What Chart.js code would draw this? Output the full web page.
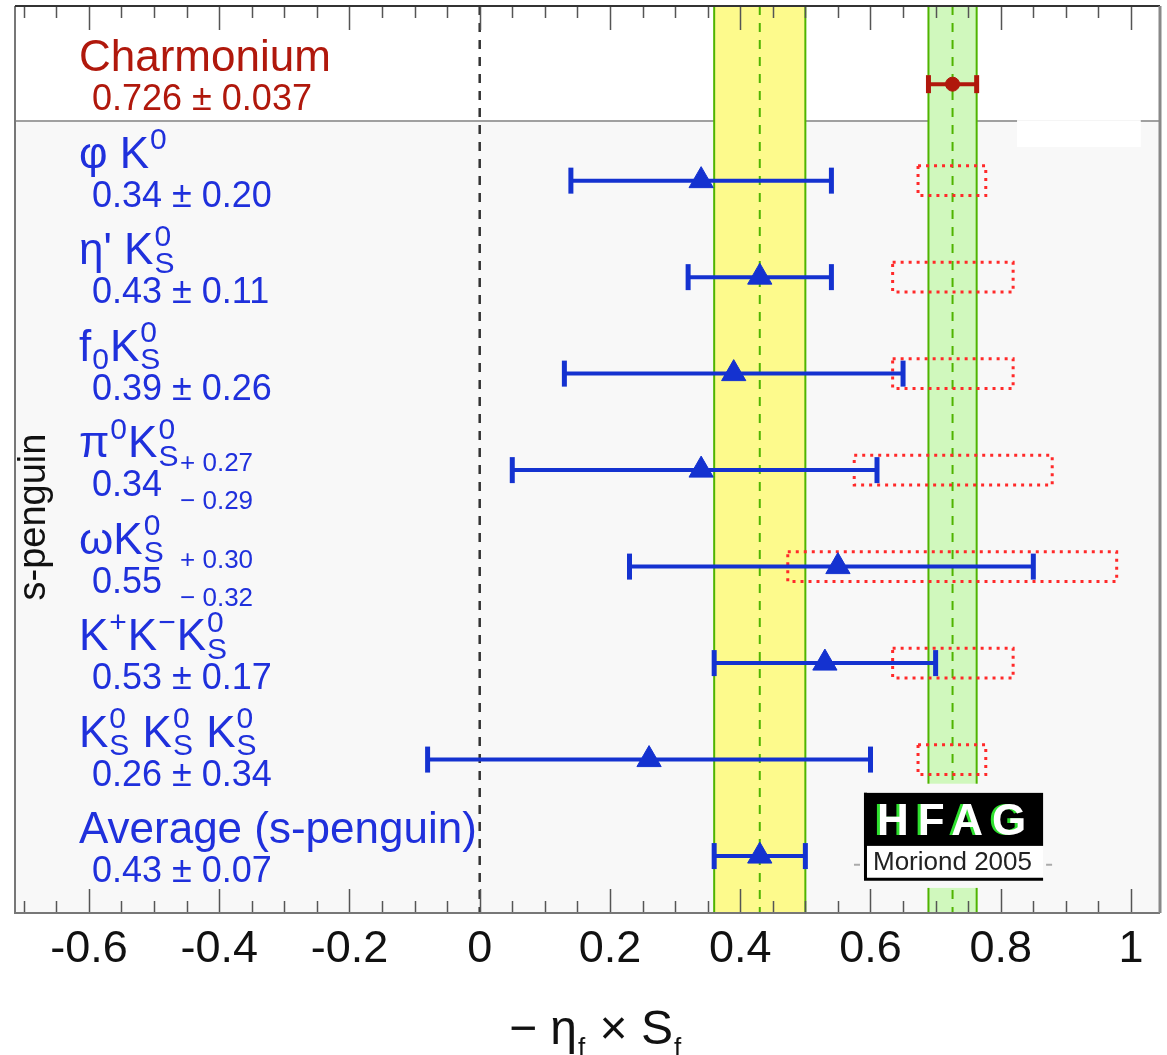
<!DOCTYPE html>
<html>
<head>
<meta charset="utf-8">
<title>s-penguin: -eta_f x S_f</title>
<script src="https://cdn.jsdelivr.net/npm/chart.js@4.4.1/dist/chart.umd.min.js"></script>
<style>
  html, body { margin: 0; padding: 0; background: #fff; }
  #wrap { width: 1167px; height: 1055px; }
</style>
</head>
<body>
<div id="wrap"><canvas id="chart" width="1167" height="1055"></canvas></div>
<script>
'use strict';

/* ── Data ─────────────────────────────────────────────────────── */
const rowNames = [
  'Charmonium',
  'φ K^{0}',
  "η' K^{0}_{S}",
  'f_{0}K^{0}_{S}',
  'π^{0}K^{0}_{S}',
  'ωK^{0}_{S}',
  'K^{+}K^{−}K^{0}_{S}',
  'K^{0}_{S} K^{0}_{S} K^{0}_{S}',
  'Average (s-penguin)'
];
const centralValues = [0.726, 0.34, 0.43, 0.39, 0.34, 0.55, 0.53, 0.26, 0.43];
const errPlus       = [0.037, 0.20, 0.11, 0.26, 0.27, 0.30, 0.17, 0.34, 0.07];
const errMinus      = [0.037, 0.20, 0.11, 0.26, 0.29, 0.32, 0.17, 0.34, 0.07];
const labelDigits   = [3, 2, 2, 2, 2, 2, 2, 2, 2];

// red dotted boxes (no box for charmonium / average)
const naiveLo = [null, 0.673, 0.634, 0.634, 0.575, 0.473, 0.634, 0.673, null];
const naiveHi = [null, 0.777, 0.819, 0.819, 0.879, 0.978, 0.819, 0.777, null];

const xTickValues = [-0.6, -0.4, -0.2, 0, 0.2, 0.4, 0.6, 0.8, 1];
const X_MIN = -0.7135, X_MAX = 1.0445;
const Y_MIN = -0.81,   Y_MAX = 8.59;
const SEPARATOR_AT = 0.383;   // line between charmonium and s-penguin rows
const CHARM_ROW = 0, AVG_ROW = 8;

/* ── Styles ─────────────────────────────────────────────────────── */
const BLUE      = '#1432d0';
const BLUE_TEXT = '#1f30dc';
const DARK_RED  = '#b0180c';
const RED_DOT   = '#ff2a2a';
const YELLOW    = '#fdfa8c';
const LIGHT_GRN = '#d0f8bd';
const GREEN     = '#4fb400';
const FONT      = '"Liberation Sans", Arial, Helvetica, sans-serif';
const BOX_HALF  = 0.155;

const rows = rowNames.map((_, i) => i);

const fmt = (v, d) => v.toFixed(d);

// ── rich text: ^{..} superscript, _{..} subscript, stacked when adjacent
function drawRich(ctx, spec, x, y, size, color, opt = {}) {
  const small  = Math.round(size * (opt.scriptScale || 0.68));
  const supDy  = opt.supDy !== undefined ? opt.supDy : -0.42 * size;
  const subDy  = opt.subDy !== undefined ? opt.subDy : 0.2 * size;
  const parts  = spec.split(/(\^\{[^}]*\}|_\{[^}]*\})/).filter(s => s.length);
  const isScript = p => p && (p.startsWith('^{') || p.startsWith('_{'));
  let cx = x, stackW = 0;
  ctx.fillStyle = color;
  ctx.textAlign = 'left';
  ctx.textBaseline = 'alphabetic';
  parts.forEach((p, k) => {
    if (!isScript(p)) {
      ctx.font = `${size}px ${FONT}`;
      if (opt.draw !== false) ctx.fillText(p, cx, y);
      cx += ctx.measureText(p).width;
      return;
    }
    const txt = p.slice(2, -1);
    ctx.font = `${small}px ${FONT}`;
    const dy = p[0] === '^' ? supDy : subDy;
    if (opt.draw !== false) ctx.fillText(txt, cx + 1, y + dy);
    const w = ctx.measureText(txt).width + 2;
    if (isScript(parts[k + 1])) {
      stackW = Math.max(stackW, w);
    } else {
      cx += Math.max(stackW, w);
      stackW = 0;
    }
  });
  return cx - x;
}

/* ── Datasets ───────────────────────────────────────────────────── */
const errorBarSets = rows.map(i => ({
  label: 'err ' + i,
  showLine: true,
  data: [
    { x: centralValues[i] - errMinus[i], y: i },
    { x: centralValues[i] + errPlus[i],  y: i }
  ],
  borderColor: i === CHARM_ROW ? DARK_RED : BLUE,
  borderWidth: 4,
  pointStyle: 'line',
  pointRotation: 90,
  pointRadius: i === CHARM_ROW ? 9 : 13,
  pointBorderWidth: 5,
  pointBorderColor: i === CHARM_ROW ? DARK_RED : BLUE,
  order: 2
}));

const naiveBoxSets = rows.filter(i => naiveLo[i] !== null).map(i => ({
  label: 'naive ' + i,
  showLine: true,
  data: [
    { x: naiveLo[i], y: i - BOX_HALF },
    { x: naiveHi[i], y: i - BOX_HALF },
    { x: naiveHi[i], y: i + BOX_HALF },
    { x: naiveLo[i], y: i + BOX_HALF },
    { x: naiveLo[i], y: i - BOX_HALF }
  ],
  borderColor: RED_DOT,
  borderWidth: 3,
  borderDash: [3, 5],
  pointRadius: 0,
  fill: false,
  order: 3
}));

const markerSet = {
  label: 'value',
  data: rows.map(i => ({ x: centralValues[i], y: i })),
  pointStyle: rows.map(i => i === CHARM_ROW ? 'circle' : 'triangle'),
  pointRadius: rows.map(i => i === CHARM_ROW ? 7 : 14),
  backgroundColor: rows.map(i => i === CHARM_ROW ? DARK_RED : BLUE),
  borderColor: rows.map(i => i === CHARM_ROW ? DARK_RED : BLUE),
  pointBorderWidth: 1,
  order: 1
};

/* ── Decorations: backgrounds, bands, ticks, labels, logo ───────── */
const decorPlugin = {
  id: 'hfagDecor',
  beforeDatasetsDraw(chart) {
    const { ctx, chartArea: a, scales: { x, y } } = chart;
    const ySep = y.getPixelForValue(SEPARATOR_AT);
    ctx.save();

    ctx.fillStyle = '#ffffff';
    ctx.fillRect(a.left, a.top, a.width, ySep - a.top);
    ctx.fillStyle = '#f8f8f8';
    ctx.fillRect(a.left, ySep, a.width, a.bottom - ySep);

    ctx.strokeStyle = '#a0a0a0';
    ctx.lineWidth = 2;
    ctx.beginPath(); ctx.moveTo(a.left, ySep); ctx.lineTo(a.right, ySep); ctx.stroke();

    // white patch in the upper right (legend remnant)
    ctx.fillStyle = '#ffffff';
    const px0 = x.getPixelForValue(0.825), px1 = x.getPixelForValue(1.015);
    ctx.fillRect(px0, ySep - 1, px1 - px0, 27);

    // bands: s-penguin average (yellow) and charmonium (green)
    const band = (i, fill) => {
      const l = x.getPixelForValue(centralValues[i] - errMinus[i]);
      const r = x.getPixelForValue(centralValues[i] + errPlus[i]);
      const c = x.getPixelForValue(centralValues[i]);
      ctx.fillStyle = fill;
      ctx.fillRect(l, a.top, r - l, a.height);
      ctx.strokeStyle = GREEN;
      ctx.lineWidth = 2;
      ctx.setLineDash([]);
      ctx.beginPath();
      ctx.moveTo(l, a.top); ctx.lineTo(l, a.bottom);
      ctx.moveTo(r, a.top); ctx.lineTo(r, a.bottom);
      ctx.stroke();
      ctx.setLineDash([9, 8]);
      ctx.beginPath(); ctx.moveTo(c, a.top); ctx.lineTo(c, a.bottom); ctx.stroke();
      ctx.setLineDash([]);
    };
    band(AVG_ROW, YELLOW);
    band(CHARM_ROW, LIGHT_GRN);

    // logo background (covers the green band)
    const lgL = x.getPixelForValue(0.578), lgR = x.getPixelForValue(0.874);
    const lgT = y.getPixelForValue(7.25),  lgB = y.getPixelForValue(8.33);
    ctx.fillStyle = '#f8f8f8';
    ctx.fillRect(lgL, lgT, lgR - lgL, lgB - lgT);

    // zero line
    const x0 = x.getPixelForValue(0);
    ctx.strokeStyle = '#333';
    ctx.lineWidth = 2.5;
    ctx.setLineDash([9, 8]);
    ctx.beginPath(); ctx.moveTo(x0, a.top); ctx.lineTo(x0, a.bottom); ctx.stroke();
    ctx.setLineDash([]);

    // tick marks top and bottom (major every 0.2, minor every 0.05)
    ctx.strokeStyle = '#555';
    ctx.lineWidth = 1.5;
    for (let k = -14; k <= 20; k++) {
      const v = k * 0.05;
      if (v < X_MIN || v > X_MAX) continue;
      const px = Math.round(x.getPixelForValue(v)) + 0.5;
      const len = k % 4 === 0 ? 24 : 12;
      ctx.beginPath();
      ctx.moveTo(px, a.top); ctx.lineTo(px, a.top + len);
      ctx.moveTo(px, a.bottom); ctx.lineTo(px, a.bottom - len);
      ctx.stroke();
    }
    ctx.restore();
  },

  afterDatasetsDraw(chart) {
    const { ctx, chartArea: a, scales: { x, y } } = chart;
    ctx.save();

    // row labels
    const nameX = a.left + 64, valX = a.left + 77;
    rows.forEach(i => {
      const cy = y.getPixelForValue(i);
      const col = i === CHARM_ROW ? DARK_RED : BLUE_TEXT;
      drawRich(ctx, rowNames[i], nameX, cy - 13, 44, col);
      const d = labelDigits[i];
      ctx.font = `36px ${FONT}`;
      ctx.fillStyle = col;
      if (errPlus[i] === errMinus[i]) {
        ctx.fillText(`${fmt(centralValues[i], d)} ± ${fmt(errPlus[i], d)}`, valX, cy + 26);
      } else {
        const cTxt = fmt(centralValues[i], d);
        ctx.fillText(cTxt, valX, cy + 26);
        const sx = valX + ctx.measureText(cTxt).width + 18;
        ctx.font = `26px ${FONT}`;
        ctx.fillText(`+ ${fmt(errPlus[i], d)}`, sx, cy + 1);
        ctx.fillText(`− ${fmt(errMinus[i], d)}`, sx, cy + 39);
      }
    });

    // y title, centred on the s-penguin part
    const yMid = (y.getPixelForValue(SEPARATOR_AT) + a.bottom) / 2;
    ctx.save();
    ctx.translate(a.left + 30, yMid);
    ctx.rotate(-Math.PI / 2);
    ctx.font = `38px ${FONT}`;
    ctx.fillStyle = '#111';
    ctx.textAlign = 'center';
    ctx.fillText('s-penguin', 0, 0);
    ctx.restore();

    // x title: −η_f × S_f
    const title = '− η_{f} × S_{f}';
    const topt = { scriptScale: 0.55, subDy: 12 };
    const tw = drawRich(ctx, title, 0, 0, 48, '#111', Object.assign({ draw: false }, topt));
    drawRich(ctx, title, (a.left + a.right) / 2 - tw / 2 + 8, 1044, 48, '#111', topt);

    // HFAG logo
    const L = x.getPixelForValue(0.59), R = x.getPixelForValue(0.865);
    const T = y.getPixelForValue(7.345), M = y.getPixelForValue(7.895), B = y.getPixelForValue(8.225);
    ctx.fillStyle = '#000';
    ctx.fillRect(L, T, R - L, M - T);
    ctx.fillStyle = '#fff';
    ctx.fillRect(L, M, R - L, B - M);
    ctx.strokeStyle = '#000';
    ctx.lineWidth = 3;
    ctx.beginPath();
    ctx.moveTo(L + 1.5, T); ctx.lineTo(L + 1.5, B + 1.5); ctx.lineTo(R, B + 1.5);
    ctx.stroke();
    ctx.font = `bold 44px ${FONT}`;
    ctx.letterSpacing = '9px';
    ctx.fillStyle = '#2ee02e';
    ctx.fillText('HFAG', L + 10, M - 11);
    ctx.fillStyle = '#fff';
    ctx.fillText('HFAG', L + 13, M - 11);
    ctx.letterSpacing = '0px';
    ctx.font = `26px ${FONT}`;
    ctx.fillStyle = '#222';
    ctx.fillText('Moriond 2005', L + 9, B - 8);
    ctx.strokeStyle = '#aaa';
    ctx.lineWidth = 2;
    const dashY = (M + B) / 2 + 3;
    ctx.beginPath();
    ctx.moveTo(L - 10, dashY); ctx.lineTo(L - 4, dashY);
    ctx.moveTo(R + 3, dashY); ctx.lineTo(R + 9, dashY);
    ctx.stroke();

    // frame
    ctx.lineWidth = 2;
    ctx.strokeStyle = '#777';
    ctx.beginPath();
    ctx.moveTo(a.left, a.top); ctx.lineTo(a.left, a.bottom); ctx.lineTo(a.right, a.bottom);
    ctx.stroke();
    ctx.strokeStyle = '#333';
    ctx.beginPath(); ctx.moveTo(a.left, a.top); ctx.lineTo(a.right, a.top); ctx.stroke();
    ctx.strokeStyle = '#888';
    ctx.lineWidth = 3;
    ctx.beginPath(); ctx.moveTo(a.right, a.top); ctx.lineTo(a.right, a.bottom); ctx.stroke();

    ctx.restore();
  }
};

/* ── Chart ──────────────────────────────────────────────────────── */
new Chart(document.getElementById('chart').getContext('2d'), {
  type: 'scatter',
  data: { datasets: [markerSet, ...errorBarSets, ...naiveBoxSets] },
  options: {
    responsive: false,
    animation: false,
    devicePixelRatio: 1,
    events: [],
    layout: { autoPadding: false, padding: { left: 15, right: 7, top: 6, bottom: 0 } },
    plugins: { legend: { display: false }, tooltip: { enabled: false } },
    scales: {
      x: {
        type: 'linear',
        min: X_MIN,
        max: X_MAX,
        afterBuildTicks: ax => { ax.ticks = xTickValues.map(v => ({ value: v })); },
        afterFit: ax => { ax.height = 142; },
        grid: { display: false, drawTicks: false },
        border: { display: false },
        ticks: {
          autoSkip: false,
          maxRotation: 0,
          padding: 10,
          color: '#111',
          font: { family: FONT, size: 45 },
          callback: v => String(Math.round(v * 10) / 10)
        }
      },
      y: { type: 'linear', display: false, reverse: true, min: Y_MIN, max: Y_MAX }
    }
  },
  plugins: [decorPlugin]
});
</script>
</body>
</html>
